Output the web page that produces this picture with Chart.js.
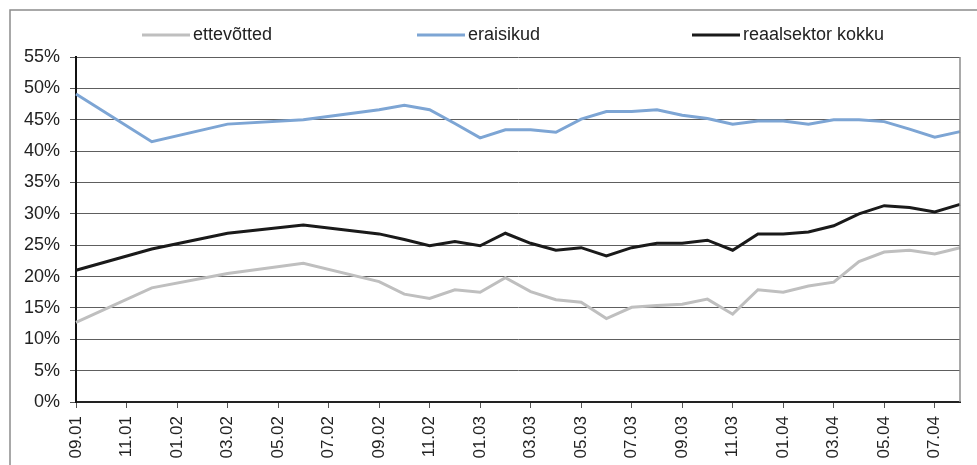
<!DOCTYPE html>
<html>
<head>
<meta charset="utf-8">
<title>Laenude osakaal</title>
<script src="https://cdn.jsdelivr.net/npm/chart.js@4.4.1/dist/chart.umd.min.js"></script>
<style>
  html, body { margin: 0; padding: 0; background: #ffffff; }
  #wrap { width: 977px; height: 465px; position: relative; }
</style>
</head>
<body>
<div id="wrap"><canvas id="chart" width="977" height="465"></canvas></div>
<script>
// Monthly categories, 09.2001 – 08.2004 (labels shown on every second month)
const months = [
  '09.01', '10.01', '11.01', '12.01',
  '01.02', '02.02', '03.02', '04.02', '05.02', '06.02', '07.02', '08.02', '09.02', '10.02', '11.02', '12.02',
  '01.03', '02.03', '03.03', '04.03', '05.03', '06.03', '07.03', '08.03', '09.03', '10.03', '11.03', '12.03',
  '01.04', '02.04', '03.04', '04.04', '05.04', '06.04', '07.04', '08.04'
];

// Shares in percent; quarterly observations until 09.02, monthly afterwards
const ettevotted = [
  12.7, null, null, 18.2, null, null, 20.5, null, null, 22.1, null, null,
  19.2, 17.2, 16.5, 17.9, 17.5, 19.8, 17.6, 16.3, 15.9, 13.3, 15.1, 15.4,
  15.6, 16.4, 14.0, 17.9, 17.5, 18.5, 19.1, 22.4, 23.9, 24.2, 23.6, 24.6
];
const eraisikud = [
  49.1, null, null, 41.5, null, null, 44.3, null, null, 45.0, null, null,
  46.6, 47.3, 46.6, 44.4, 42.1, 43.4, 43.4, 43.0, 45.1, 46.3, 46.3, 46.6,
  45.7, 45.2, 44.3, 44.8, 44.8, 44.3, 45.0, 45.0, 44.7, 43.5, 42.2, 43.1
];
const reaalsektor = [
  21.0, null, null, 24.4, null, null, 26.9, null, null, 28.2, null, null,
  26.8, 25.9, 24.9, 25.6, 24.9, 26.9, 25.3, 24.2, 24.6, 23.3, 24.6, 25.3,
  25.3, 25.8, 24.2, 26.8, 26.8, 27.1, 28.1, 30.0, 31.3, 31.0, 30.3, 31.5
];

const seriesNames = ['ettevõtted', 'eraisikud', 'reaalsektor kokku'];
const seriesColors = ['#bfbfbf', '#7da5d4', '#1a1a1a'];

const FONT = '"Liberation Sans", Arial, sans-serif';

// White background, outer frame and right edge of the plot area
const framePlugin = {
  id: 'frame',
  beforeDraw(chart) {
    const ctx = chart.ctx;
    ctx.save();
    ctx.fillStyle = '#ffffff';
    ctx.fillRect(0, 0, chart.width, chart.height);
    ctx.restore();
  },
  afterDraw(chart) {
    const ctx = chart.ctx;
    const a = chart.chartArea;
    ctx.save();
    ctx.strokeStyle = '#8c8c8c';
    ctx.lineWidth = 1.5;
    ctx.strokeRect(10, 10, chart.width + 20, chart.height + 20);
    ctx.beginPath();
    ctx.moveTo(a.right, a.top);
    ctx.lineTo(a.right, a.bottom);
    ctx.stroke();
    ctx.restore();
  }
};

// Legend row: evenly spaced entries across the top
const legendPlugin = {
  id: 'spreadLegend',
  afterDraw(chart) {
    const ctx = chart.ctx;
    const startX = 142, slot = 275, y = 35;
    ctx.save();
    ctx.font = '18px ' + FONT;
    ctx.textBaseline = 'middle';
    ctx.textAlign = 'left';
    chart.data.datasets.forEach((ds, i) => {
      const x = startX + i * slot;
      ctx.strokeStyle = ds.borderColor;
      ctx.lineWidth = 3;
      ctx.beginPath();
      ctx.moveTo(x, y);
      ctx.lineTo(x + 48, y);
      ctx.stroke();
      ctx.fillStyle = '#222222';
      ctx.fillText(ds.label, x + 51, y);
    });
    ctx.restore();
  }
};

const seriesData = [ettevotted, eraisikud, reaalsektor];

new Chart(document.getElementById('chart'), {
  type: 'line',
  data: {
    labels: months,
    datasets: seriesData.map((d, i) => ({
      label: seriesNames[i],
      data: d,
      borderColor: seriesColors[i],
      backgroundColor: seriesColors[i],
      borderWidth: 3,
      pointRadius: 0,
      pointHoverRadius: 0,
      tension: 0,
      spanGaps: true,
      fill: false
    }))
  },
  options: {
    responsive: false,
    devicePixelRatio: 1,
    animation: false,
    layout: { padding: { top: 57, right: 17, left: 0, bottom: 0 } },
    plugins: {
      legend: { display: false },
      tooltip: { enabled: false }
    },
    scales: {
      x: {
        type: 'category',
        offset: false,
        afterFit(scale) {
          scale.height = 63;
          scale.paddingLeft = 0;
          scale.paddingRight = 0;
        },
        grid: {
          drawOnChartArea: false,
          drawTicks: true,
          tickLength: 6,
          tickColor: (c) => (c.index % 2 === 0 ? '#555555' : 'rgba(0,0,0,0)')
        },
        border: { display: true, color: '#222222', width: 2 },
        ticks: {
          autoSkip: false,
          minRotation: 90,
          maxRotation: 90,
          padding: 8,
          color: '#222222',
          font: { family: FONT, size: 17 },
          callback(value, index) { return index % 2 === 0 ? this.getLabelForValue(value) : ''; }
        }
      },
      y: {
        min: 0,
        max: 55,
        afterFit(scale) {
          scale.width = 76;
          scale.paddingTop = 0;
          scale.paddingBottom = 0;
        },
        grid: {
          color: '#5e5e5e',
          lineWidth: 1,
          tickLength: 6,
          tickColor: '#555555'
        },
        border: { display: true, color: '#111111', width: 2 },
        ticks: {
          stepSize: 5,
          padding: 10,
          color: '#222222',
          font: { family: FONT, size: 18 },
          callback: (v) => v + '%'
        }
      }
    }
  },
  plugins: [framePlugin, legendPlugin]
});
</script>
</body>
</html>
